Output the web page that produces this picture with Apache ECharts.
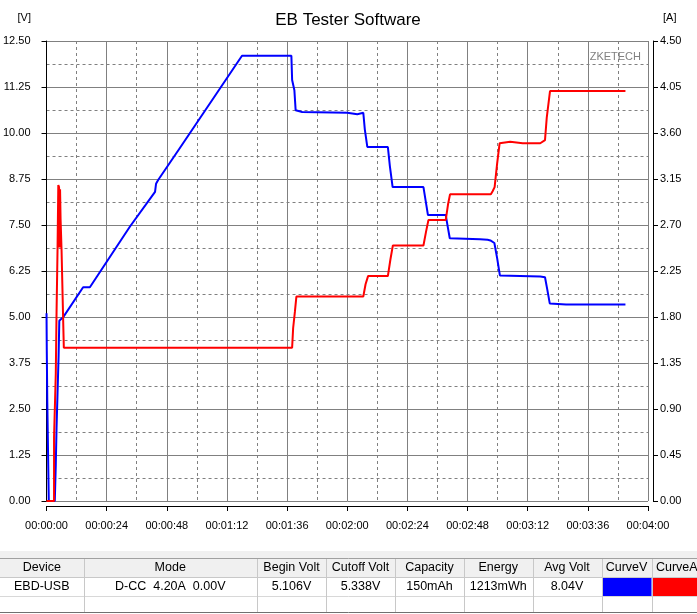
<!DOCTYPE html>
<html><head><meta charset="utf-8">
<script src="https://cdn.jsdelivr.net/npm/echarts@6/dist/echarts.min.js"></script>
<style>html,body{margin:0;padding:0;background:#fff}#c{width:697px;height:614px}</style>
</head><body><div id="c"></div>
<script>
// ---- data ----
const chartTitle = 'EB Tester Software';
const voltUnit = '[V]';
const currUnit = '[A]';
const watermark = 'ZKETECH';

const voltTime = [0, 0.1, 0.3, 0.6, 0.9, 3.3, 3.7, 4.0, 4.4, 4.8, 5.1, 6.6, 14.6, 17.3, 33.3, 43.3, 43.7, 44.6, 52.6, 78.0,
  97.7, 98.0, 98.9, 99.4, 100.0, 102.0, 120.0, 124.0, 126.4, 127.0, 128.0, 136.2, 137.0, 138.1, 150.4, 151.3, 152.2,
  159.3, 160.1, 160.9, 173.0, 176.0, 177.1, 178.7, 179.8, 180.9, 197.0, 198.9, 199.8, 200.8, 207.3, 231.0];
const voltValues = [5.10, 4.10, 2.72, 1.36, 0.00, 0.00, 1.00, 2.00, 2.95, 3.90, 4.90, 4.99, 5.81, 5.81, 7.46, 8.40, 8.62, 8.73, 9.53, 12.10,
  12.10, 11.44, 11.16, 10.62, 10.59, 10.57, 10.55, 10.51, 10.55, 10.10, 9.62, 9.62, 9.10, 8.53, 8.53, 8.15, 7.77,
  7.77, 7.45, 7.14, 7.11, 7.10, 7.08, 7.01, 6.60, 6.13, 6.10, 6.08, 5.75, 5.37, 5.34, 5.34];

const currTime = [0, 3.0, 3.0, 3.7, 4.0, 4.4, 4.7, 5.0, 5.2, 5.4, 5.6, 5.8, 6.0, 6.3, 6.6, 6.9, 98.0, 98.4, 99.1, 99.7,
  126.4, 127.3, 128.3, 136.2, 137.2, 138.2, 150.4, 151.4, 152.4, 159.3, 160.2, 161.0, 177.3, 178.0, 178.8, 179.8,
  180.8, 185.0, 190.0, 197.0, 198.9, 199.6, 200.9, 231.0];
const currValues = [0, 0, 0.62, 1.25, 1.85, 2.47, 3.09, 3.07, 2.48, 3.05, 2.76, 2.76, 2.45, 2.13, 1.81, 1.50, 1.50, 1.69, 1.85, 2.00,
  2.00, 2.12, 2.20, 2.20, 2.36, 2.50, 2.50, 2.63, 2.75, 2.75, 2.90, 3.00, 3.00, 3.03, 3.07, 3.30,
  3.50, 3.515, 3.50, 3.50, 3.53, 3.75, 4.01, 4.01];

const tableHeaders = ['Device', 'Mode', 'Begin Volt', 'Cutoff Volt', 'Capacity', 'Energy', 'Avg Volt', 'CurveV', 'CurveA'];
const tableRow = ['EBD-USB', 'D-CC  4.20A  0.00V', '5.106V', '5.338V', '150mAh', '1213mWh', '8.04V', '', ''];

// ---- layout ----
const colEdges = [0, 83.5, 257, 326, 395, 464, 532.5, 601.5, 651.5, 702];
const FONT = '"Liberation Sans", Arial, sans-serif';

function fmtTime(s) {
  s = Math.round(s);
  const h = Math.floor(s / 3600), m = Math.floor((s % 3600) / 60), sec = s % 60;
  const p = n => String(n).padStart(2, '0');
  return p(h) + ':' + p(m) + ':' + p(sec);
}

const graphics = [];
function txt(x, y, text, align, size, color, clip) {
  graphics.push({ type: 'text', x: x, y: y, silent: true,
    style: { text: text, align: align, verticalAlign: 'middle', textAlign: align, textVerticalAlign: 'middle',
      font: size + 'px ' + FONT, fill: color || '#000' } });
}
function rect(x, y, w, h, fill) {
  graphics.push({ type: 'rect', silent: true, shape: { x: x, y: y, width: w, height: h }, style: { fill: fill } });
}
function line(x1, y1, x2, y2, stroke) {
  graphics.push({ type: 'line', silent: true, shape: { x1: x1, y1: y1, x2: x2, y2: y2 }, style: { stroke: stroke, lineWidth: 1 } });
}

// title and units
txt(348, 20, chartTitle, 'center', 17);
txt(31, 18, voltUnit, 'right', 11);
txt(663, 18, currUnit, 'left', 11);
txt(641, 57, watermark, 'right', 11, '#808080');

// table
rect(0, 551, 697, 7, '#f0f0f0');
rect(0, 558, 697, 19, '#f0f0f0');
rect(0, 577, 697, 36, '#ffffff');
rect(602, 577, 49.5, 19, '#0000ff');
rect(652, 577, 50, 19, '#ff0000');
line(0, 558.5, 697, 558.5, '#a0a0a0');
line(0, 577.5, 697, 577.5, '#c8c8c8');
line(0, 596.5, 697, 596.5, '#d8d8d8');
line(0, 612.5, 697, 612.5, '#707070');
for (let i = 1; i < colEdges.length - 1; i++) {
  const x = Math.round(colEdges[i]) + 0.5;
  line(x, 559, x, 612, '#c8c8c8');
}
for (let i = 0; i < tableHeaders.length; i++) {
  const cx = (colEdges[i] + colEdges[i + 1]) / 2;
  txt(cx, 568, tableHeaders[i], 'center', 12.5);
  if (tableRow[i]) txt(cx, 587, tableRow[i], 'center', 12.5);
}

const chart = echarts.init(document.getElementById('c'), null, { renderer: 'canvas' });
const gridColor = '#808080';
chart.setOption({
  animation: false,
  backgroundColor: '#ffffff',
  grid: { left: 46, right: 49, top: 41, bottom: 113 },
  xAxis: {
    type: 'value', min: 0, max: 240, interval: 24, offset: 5,
    axisLine: { show: true, onZero: false, lineStyle: { color: '#000', width: 1 } },
    axisTick: { show: true, length: 5, lineStyle: { color: '#000' } },
    axisLabel: { color: '#000', fontSize: 11, fontFamily: FONT, margin: 14, formatter: v => fmtTime(v) },
    splitLine: { show: true, lineStyle: { color: gridColor, width: 1 } },
    minorTick: { show: false, splitNumber: 2 },
    minorSplitLine: { show: true, lineStyle: { color: gridColor, width: 1, type: [3, 3] } }
  },
  yAxis: [{
    type: 'value', min: 0, max: 12.5, interval: 1.25, position: 'left', offset: 5,
    axisLine: { show: true, lineStyle: { color: '#000', width: 1 } },
    axisTick: { show: true, length: 5, lineStyle: { color: '#000' } },
    axisLabel: { color: '#000', fontSize: 11, fontFamily: FONT, margin: 11, formatter: v => v.toFixed(2) },
    splitLine: { show: true, lineStyle: { color: gridColor, width: 1 } },
    minorTick: { show: false, splitNumber: 2 },
    minorSplitLine: { show: true, lineStyle: { color: gridColor, width: 1, type: [3, 3] } }
  }, {
    type: 'value', min: 0, max: 4.5, interval: 0.45, position: 'right', offset: 5,
    axisLine: { show: true, lineStyle: { color: '#000', width: 1 } },
    axisTick: { show: true, length: 5, lineStyle: { color: '#000' } },
    axisLabel: { color: '#000', fontSize: 11, fontFamily: FONT, margin: 7, formatter: v => v.toFixed(2) },
    splitLine: { show: false }
  }],
  series: [{
    name: 'Voltage', type: 'line', yAxisIndex: 0, symbol: 'none', showSymbol: false,
    lineStyle: { color: '#0000ff', width: 2 }, itemStyle: { color: '#0000ff' },
    data: voltTime.map((t, i) => [t, voltValues[i]]), z: 3
  }, {
    name: 'Current', type: 'line', yAxisIndex: 1, symbol: 'none', showSymbol: false,
    lineStyle: { color: '#ff0000', width: 2 }, itemStyle: { color: '#ff0000' },
    data: currTime.map((t, i) => [t, currValues[i]]), z: 4
  }],
  graphic: graphics
});
</script>
</body></html>
